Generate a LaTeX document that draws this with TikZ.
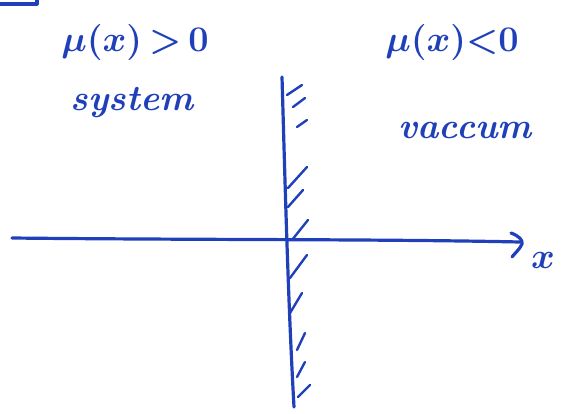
\documentclass[tikz,border=0pt]{standalone}
\usepackage{tikz}
\definecolor{ink}{RGB}{32,64,185}
\tikzset{
  ink line/.style={draw=ink, line width=3.2pt, line cap=round, line join=round},
  hatchline/.style={draw=ink, line width=2.4pt, line cap=round},
  label text/.style={text=ink, font=\Huge\bfseries\itshape\boldmath, inner sep=0pt, scale=1.45},
}
\begin{document}
\begin{tikzpicture}[x=1pt,y=-1pt]
\useasboundingbox (0,0) rectangle (568,413);
% corner mark top left
\coordinate (c1) at (0,4);
\coordinate (c2) at (37,4);
\coordinate (c3) at (37,0);
\draw[ink line] (c1) -- (c2) -- (c3);
% labels
\node[label text] (muL) at (135,42) {$\mu(x)\,{>}\,0$};
\node[label text] (sys) at (132,103) {system};
\node[label text] (muR) at (452,42) {$\mu(x){<}0$};
\node[label text] (vac) at (465,130) {vaccum};
% axis
\coordinate (axL) at (12,238);
\coordinate (axR) at (520,242);
\draw[ink line] (axL) .. controls (200,240) and (380,239) .. (axR);
\coordinate (ah1) at (511,233);
\coordinate (ah2) at (522,244);
\coordinate (ah3) at (512,257);
\draw[ink line] (ah1) .. controls (519,236) and (523,240) .. (ah2) .. controls (520,249) and (515,253) .. (ah3);
\node[label text] (xlab) at (543,260) {$x$};
% wall
\coordinate (wT) at (282,77);
\coordinate (wB) at (294,407);
\draw[ink line] (wT) .. controls (285,180) and (288,300) .. (wB);
% hatches
\foreach \a/\b/\c/\d [count=\i] in {
  287/95/302/85, 293/107/305/98, 297/127/307/120,
  288/188/307/167, 288/207/303/190, 292/240/308/220,
  290/278/307/255, 290/313/302/293, 297/350/305/333,
  297/377/305/362, 298/397/310/385}{
  \coordinate (h\i a) at (\a,\b);
  \coordinate (h\i b) at (\c,\d);
  \draw[hatchline] (h\i a) -- (h\i b);
}
\end{tikzpicture}
\end{document}
